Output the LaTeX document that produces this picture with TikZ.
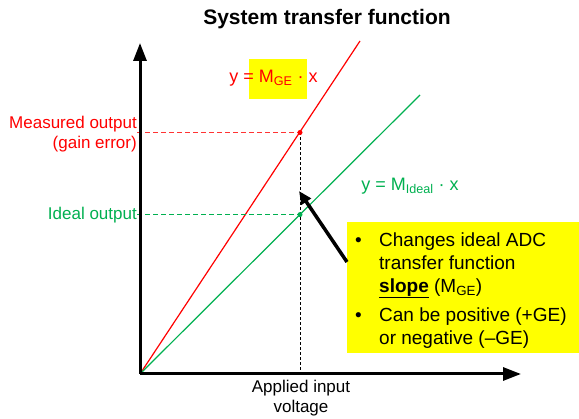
\documentclass[tikz,border=0pt]{standalone}
\usepackage{fontspec}
\setmainfont{Liberation Sans}
\usetikzlibrary{arrows.meta,calc}
\definecolor{gered}{RGB}{255,0,0}
\definecolor{idgreen}{RGB}{0,176,80}
\definecolor{hl}{RGB}{255,255,0}

\begin{document}
\begin{tikzpicture}[x=1pt,y=-1pt,
  axis/.style={line width=3pt,-{Triangle[length=18pt,width=13pt]}},
  curve/.style={line width=1.2pt},
  guide/.style={line width=0.8pt,dash pattern=on 5pt off 3pt},
  lbl/.style={font=\fontsize{17}{20}\selectfont,inner sep=0pt},
  dot/.style={circle,inner sep=0pt,minimum size=5pt},
  pointer/.style={line width=3.5pt,-{Triangle[length=13pt,width=11pt]}}]
\useasboundingbox (0,0) rectangle (579,419);

% title
\node[font=\fontsize{21}{24}\selectfont\bfseries] (title) at (327,19) {System transfer function};

% axes
\coordinate (O) at (140,374);
\coordinate (ytip) at (140,43);
\coordinate (xtip) at (521,374);

% transfer lines
\coordinate (redend) at (360,41);
\coordinate (greenend) at (420,95);
\draw[curve,gered] (O) -- (redend);
\draw[curve,idgreen] (O) -- (greenend);

% operating points at the applied input
\coordinate (meas) at (300,132.5);
\coordinate (ideal) at (300,214.6);
\coordinate (xin) at (300,374);

% axis labels
\node[lbl,gered,align=right,anchor=east] (measlbl) at (137,134) {Measured output\\(gain error)};
\node[lbl,idgreen,anchor=east] (ideallbl) at (137,215) {Ideal output};
\node[lbl,align=center,anchor=north] (xlbl) at (301,380) {Applied input\\voltage};

% guide lines
\draw[guide,gered!80] (measlbl.east |- meas) -- (meas);
\draw[guide,idgreen] (ideallbl.east |- ideal) -- (ideal);
\draw[guide,black,line width=0.7pt,dash pattern=on 3pt off 2pt] (meas) -- (xin);

\node[dot,fill=gered] (measdot) at (meas) {};
\node[dot,fill=idgreen] (idealdot) at (ideal) {};

\draw[axis] (O) -- (ytip);
\draw[axis] (O) -- (xtip);

% slope equations
\node[fill=hl,minimum width=58pt,minimum height=40pt,inner sep=0pt] (hlbox) at (278,79) {};
\node[lbl,gered,font=\fontsize{18}{20}\selectfont] (redeq) at (273.5,78) {y = M\textsubscript{GE} · x};
\node[lbl,idgreen,font=\fontsize{18}{20}\selectfont] (greeneq) at (410,186) {y = M\textsubscript{Ideal} · x};

% note box
\node[fill=hl,minimum width=232pt,minimum height=131pt,anchor=north west,inner sep=0pt] (notebox) at (347,222) {};
\node[anchor=north west,inner sep=0pt,font=\fontsize{19}{23}\selectfont] (notetext) at (355,230)
{\begin{tabular}{@{}p{24pt}@{}l@{}}
 • & Changes ideal ADC\\
   & transfer function\\
   & \textbf{\underline{slope}} (M\textsubscript{GE})\\[6pt]
 • & Can be positive (+GE)\\
   & or negative ({–}GE)
\end{tabular}};

\coordinate (ptail) at ($(notebox.north west)+(0,40)$);
\draw[pointer] (ptail) -- (299,191);
\end{tikzpicture}
\end{document}
